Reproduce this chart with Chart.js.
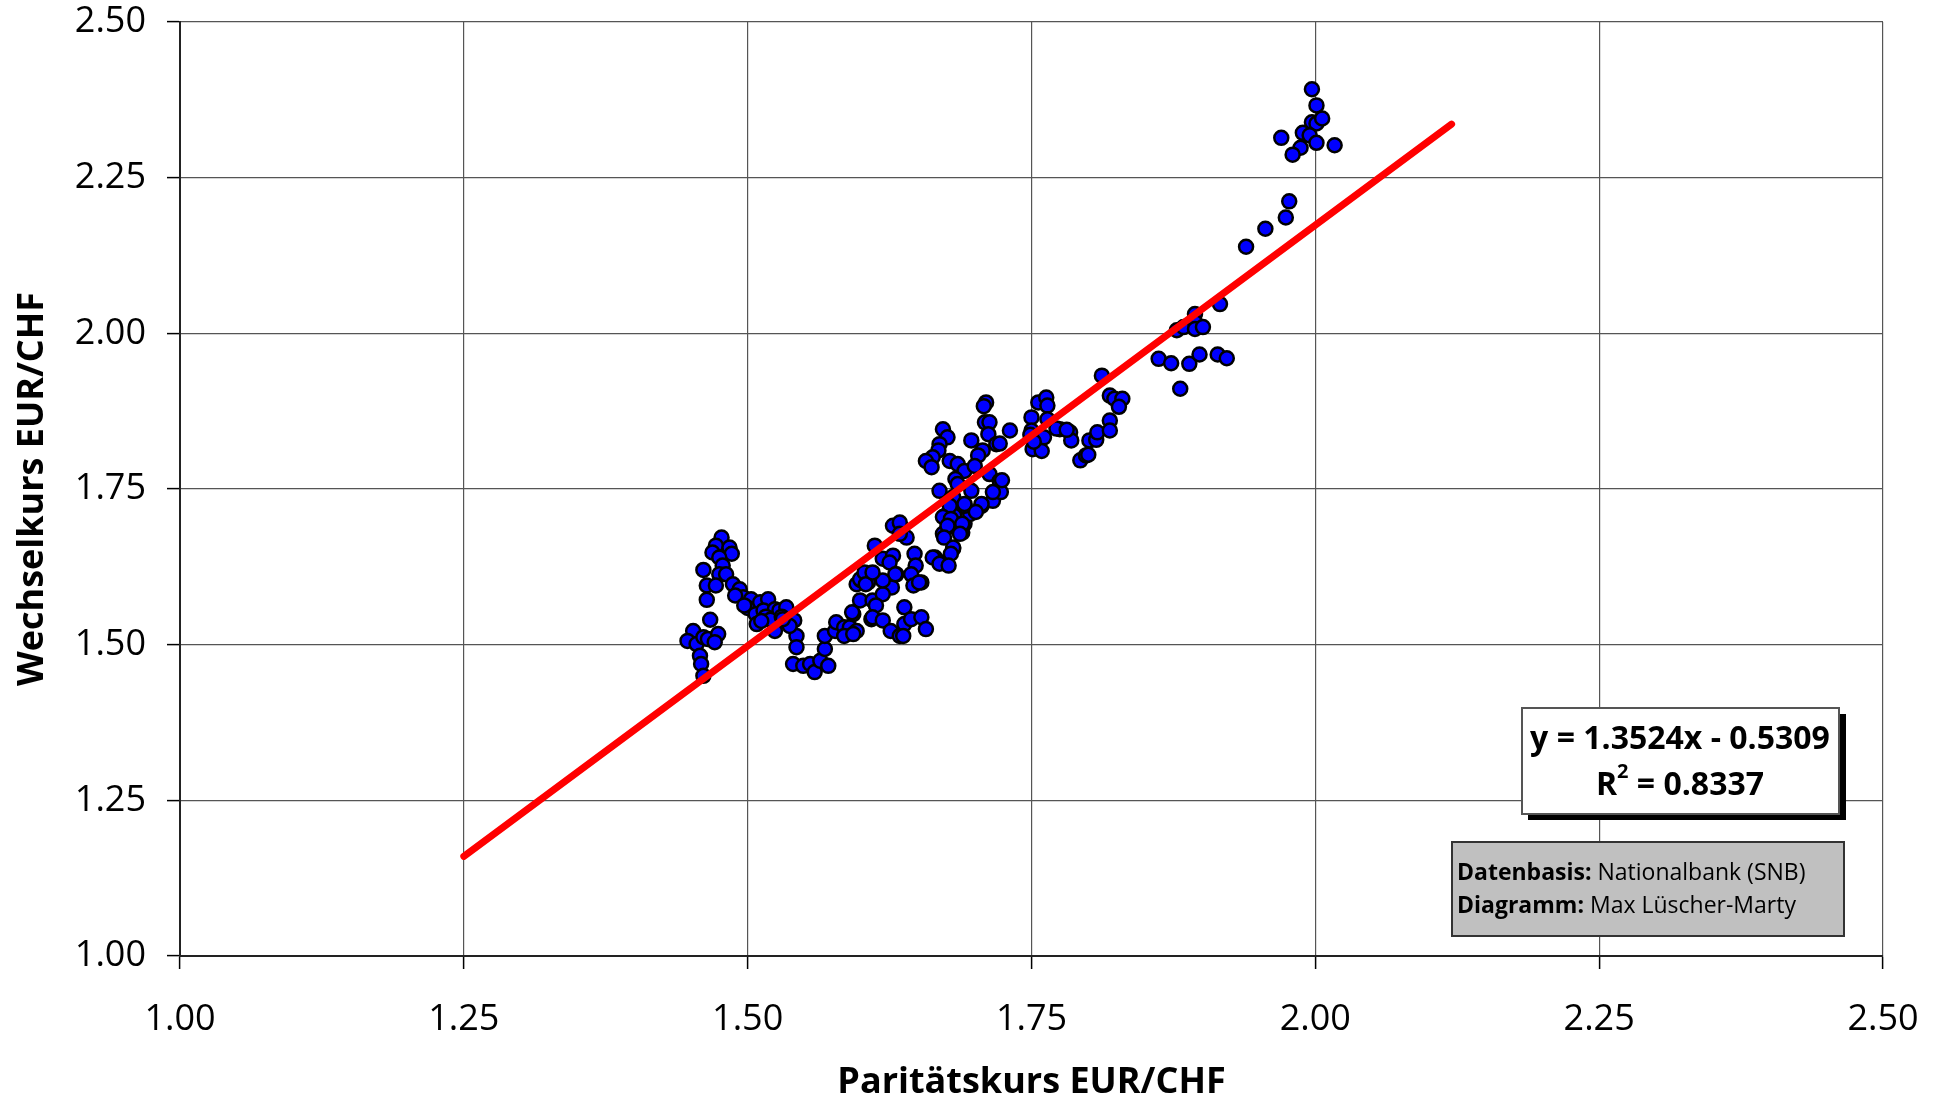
<!DOCTYPE html>
<html>
<head>
<meta charset="utf-8">
<script src="https://cdn.jsdelivr.net/npm/chart.js@4.4.1/dist/chart.umd.min.js"></script>
<style>
  html, body { margin: 0; padding: 0; background: #fff; }
  #wrap { width: 1945px; height: 1104px; position: relative; }
</style>
</head>
<body>
<div id="wrap"><canvas id="kursChart"></canvas></div>
<script>
const parX = [
  1.477, 1.472, 1.469, 1.484, 1.486, 1.475, 1.478, 1.461, 1.475, 1.481, 1.464, 1.472, 1.464, 1.487, 1.493,
  1.496, 1.489, 1.503, 1.500, 1.511, 1.518, 1.507, 1.514, 1.524, 1.528, 1.534, 1.524, 1.508, 1.541, 1.543,
  1.543, 1.540, 1.549, 1.555, 1.559, 1.564, 1.571, 1.568, 1.568, 1.577, 1.578, 1.585, 1.590, 1.593, 1.599,
  1.596, 1.600, 1.605, 1.612, 1.610, 1.609, 1.596, 1.467, 1.452, 1.447, 1.455, 1.461, 1.465, 1.474, 1.471,
  1.458, 1.459, 1.461, 1.497, 1.516, 1.520, 1.530, 1.537, 1.512, 1.531,
  1.585, 1.593, 1.592, 1.599, 1.606, 1.603, 1.619, 1.628, 1.634, 1.640, 1.628, 1.631, 1.627, 1.619, 1.613,
  1.610, 1.619, 1.626, 1.634, 1.638, 1.638, 1.644, 1.653, 1.657, 1.647, 1.648, 1.644, 1.653, 1.646, 1.665,
  1.675, 1.681, 1.672, 1.679, 1.689, 1.691, 1.625, 1.630, 1.604, 1.637, 1.663, 1.671, 1.677, 1.674, 1.682,
  1.696, 1.706, 1.691, 1.716, 1.619, 1.610,
  1.710, 1.708, 1.709, 1.713, 1.712, 1.731, 1.719, 1.697, 1.707, 1.703, 1.672, 1.676, 1.669, 1.668, 1.663,
  1.657, 1.662, 1.678, 1.685, 1.691, 1.700, 1.713, 1.722, 1.723, 1.716, 1.683, 1.685, 1.669, 1.681, 1.697,
  1.691, 1.706, 1.678, 1.701, 1.672, 1.679, 1.689, 1.676, 1.673, 1.687, 1.681, 1.679, 1.669, 1.677, 1.634,
  1.651, 1.750, 1.750, 1.756, 1.763, 1.764, 1.761, 1.751, 1.759, 1.764, 1.775, 1.784, 1.785, 1.793, 1.722,
  1.724, 1.749, 1.752, 1.772,
  1.781, 1.801, 1.807, 1.808, 1.819, 1.819, 1.798, 1.800, 1.812, 1.819, 1.823, 1.830, 1.827, 1.862, 1.873,
  1.881, 1.889, 1.898, 1.914, 1.922, 1.878, 1.884, 1.894, 1.894, 1.894, 1.901, 1.916,
  1.997, 2.001, 1.997, 2.001, 2.006, 1.989, 1.995, 1.970, 1.987, 1.980, 2.001, 2.017, 1.977, 1.974, 1.956,
  1.939
];
const wechselY = [
  1.672, 1.659, 1.648, 1.656, 1.646, 1.640, 1.627, 1.620, 1.613, 1.613, 1.595, 1.595, 1.572, 1.597, 1.589,
  1.576, 1.579, 1.573, 1.559, 1.568, 1.573, 1.549, 1.555, 1.557, 1.555, 1.560, 1.522, 1.533, 1.539, 1.514,
  1.496, 1.469, 1.466, 1.469, 1.456, 1.474, 1.466, 1.493, 1.514, 1.522, 1.536, 1.528, 1.528, 1.549, 1.571,
  1.597, 1.603, 1.613, 1.659, 1.571, 1.541, 1.522, 1.540, 1.522, 1.506, 1.501, 1.512, 1.509, 1.517, 1.504,
  1.482, 1.469, 1.450, 1.563, 1.545, 1.540, 1.545, 1.530, 1.538, 1.541,
  1.514, 1.517, 1.552, 1.605, 1.600, 1.616, 1.638, 1.691, 1.696, 1.672, 1.643, 1.613, 1.592, 1.581, 1.563,
  1.544, 1.539, 1.522, 1.514, 1.533, 1.560, 1.541, 1.544, 1.525, 1.646, 1.627, 1.613, 1.600, 1.595, 1.640,
  1.630, 1.654, 1.678, 1.691, 1.680, 1.694, 1.632, 1.613, 1.597, 1.514, 1.640, 1.632, 1.689, 1.707, 1.707,
  1.710, 1.723, 1.723, 1.731, 1.603, 1.616,
  1.889, 1.883, 1.857, 1.857, 1.838, 1.844, 1.822, 1.828, 1.812, 1.804, 1.846, 1.833, 1.822, 1.812, 1.801,
  1.795, 1.785, 1.795, 1.790, 1.779, 1.787, 1.774, 1.763, 1.745, 1.745, 1.766, 1.758, 1.747, 1.737, 1.747,
  1.726, 1.726, 1.723, 1.713, 1.705, 1.702, 1.694, 1.691, 1.672, 1.678, 1.656, 1.646, 1.630, 1.627, 1.678,
  1.600, 1.865, 1.844, 1.889, 1.897, 1.884, 1.833, 1.814, 1.811, 1.862, 1.846, 1.841, 1.828, 1.796, 1.823,
  1.764, 1.837, 1.826, 1.847,
  1.845, 1.828, 1.829, 1.841, 1.860, 1.844, 1.804, 1.805, 1.932, 1.900, 1.895, 1.895, 1.882, 1.959, 1.952,
  1.911, 1.951, 1.966, 1.966, 1.960, 2.005, 2.010, 2.031, 2.018, 2.007, 2.010, 2.047,
  2.392, 2.366, 2.339, 2.337, 2.345, 2.322, 2.318, 2.314, 2.298, 2.287, 2.306, 2.302, 2.212, 2.186, 2.168,
  2.139
];

// Trendlinie: Endpunkte
const trendX = [1.25, 2.12];
const trendY = [1.160, 2.336];

const tickFont = { family: "'Open Sans', sans-serif", size: 36 };
const titleFont = { family: "'Open Sans', sans-serif", size: 36, weight: "bold" };

// Textboxen (Regressionsgleichung, Quelle)
const boxPlugin = {
  id: "boxes",
  afterDraw(chart) {
    const c = chart.ctx;
    c.save();
    // Gleichungsbox mit Schatten
    c.fillStyle = "#000";
    c.fillRect(1528, 714, 318, 106);
    c.fillStyle = "#fff";
    c.fillRect(1522, 708, 317, 106);
    c.strokeStyle = "#555";
    c.lineWidth = 2;
    c.strokeRect(1522, 708, 317, 106);

    c.fillStyle = "#000";
    c.textBaseline = "middle";
    c.textAlign = "center";
    c.font = "bold 32px 'Open Sans', sans-serif";
    c.fillText("y = 1.3524x - 0.5309", 1680, 740);
    const rest = " = 0.8337";
    const wR = c.measureText("R").width;
    const wRest = c.measureText(rest).width;
    c.font = "bold 20px 'Open Sans', sans-serif";
    const w2 = c.measureText("2").width;
    const start = 1680 - (wR + w2 + wRest) / 2;
    c.textAlign = "left";
    c.font = "bold 32px 'Open Sans', sans-serif";
    c.fillText("R", start, 786);
    c.fillText(rest, start + wR + w2, 786);
    c.font = "bold 20px 'Open Sans', sans-serif";
    c.fillText("2", start + wR, 772);

    // Quellenbox
    c.fillStyle = "#c0c0c0";
    c.fillRect(1452, 842, 392, 94);
    c.strokeStyle = "#333";
    c.lineWidth = 2;
    c.strokeRect(1452, 842, 392, 94);
    c.fillStyle = "#000";
    c.textBaseline = "alphabetic";
    const lines = [["Datenbasis:", " Nationalbank (SNB)", 880], ["Diagramm:", " Max Lüscher-Marty", 913]];
    lines.forEach(([b, n, y]) => {
      c.font = "bold 23px 'Open Sans', sans-serif";
      c.fillText(b, 1457, y);
      const wb = c.measureText(b).width;
      c.font = "23px 'Open Sans', sans-serif";
      c.fillText(n, 1457 + wb, y);
    });
    c.restore();
  }
};

const points = parX.map((x, i) => ({ x, y: wechselY[i] }));
const trend = trendX.map((x, i) => ({ x, y: trendY[i] }));

new Chart(document.getElementById("kursChart"), {
  type: "scatter",
  data: {
    datasets: [
      {
        type: "line",
        data: trend,
        borderColor: "#ff0000",
        borderWidth: 7,
        borderCapStyle: "round",
        pointRadius: 0,
        fill: false,
        order: 0
      },
      {
        data: points,
        backgroundColor: "#0000ff",
        borderColor: "#000",
        borderWidth: 2.5,
        pointRadius: 7,
        order: 1
      }
    ]
  },
  options: {
    animation: false,
    responsive: true,
    maintainAspectRatio: false,
    layout: { padding: { top: 22, right: 62, left: 0, bottom: 0 } },
    plugins: { legend: { display: false }, tooltip: { enabled: false } },
    scales: {
      x: {
        type: "linear",
        min: 1, max: 2.5,
        ticks: { stepSize: 0.25, autoSkip: false, color: "#000", font: tickFont, padding: 29,
          callback: v => v.toFixed(2) },
        grid: { color: "#555", lineWidth: 1.2, tickLength: 13, tickColor: "#000", tickWidth: 1.5 },
        border: { color: "#222", width: 2 },
        title: { display: true, text: "Paritätskurs EUR/CHF", color: "#000", font: titleFont, padding: { top: 0, bottom: 0 } },
        afterFit: s => { s.height = 148; s.paddingLeft = 0; s.paddingRight = 0; }
      },
      y: {
        type: "linear",
        min: 1, max: 2.5,
        ticks: { stepSize: 0.25, autoSkip: false, color: "#000", font: tickFont, padding: 21,
          callback: v => v.toFixed(2) },
        grid: { color: "#555", lineWidth: 1.2, tickLength: 13, tickColor: "#000", tickWidth: 1.5 },
        border: { color: "#222", width: 2 },
        title: { display: true, text: "Wechselkurs EUR/CHF", color: "#000", font: titleFont, padding: { top: 11, bottom: 0 } },
        afterFit: s => { s.width = 180; s.paddingTop = 0; s.paddingBottom = 0; }
      }
    }
  },
  plugins: [boxPlugin]
});
</script>
</body>
</html>
